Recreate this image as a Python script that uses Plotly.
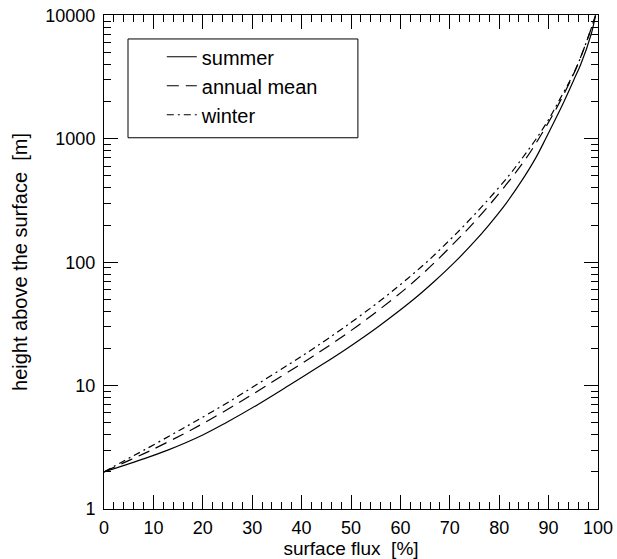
import plotly.graph_objects as go

heights = [2, 2.5, 3, 4, 5, 7, 10, 15, 20, 30, 50, 70, 100, 150, 200, 300, 500, 700,
           1000, 1500, 2000, 3000, 4000, 7000, 10000]
summer = [0, 7.4, 12.9, 20.1, 24.7, 31.1, 37.4, 44.4, 49.2, 55.5, 62.7, 66.9, 71.0, 75.2,
          77.9, 81.4, 85.2, 87.4, 89.4, 91.6, 93.1, 95.1, 96.5, 98.6, 99.5]
annual_mean = [0, 5.3, 9.6, 15.8, 20.3, 26.6, 32.9, 39.9, 44.7, 51.1, 58.4, 62.8, 67.0, 71.4,
               74.4, 78.3, 82.8, 85.5, 88.0, 90.6, 92.3, 94.5, 95.9, 98.2, 99.5]
winter = [0, 4.4, 8.1, 13.7, 18.0, 24.3, 30.6, 37.6, 42.4, 48.8, 56.3, 60.8, 65.3, 69.9,
          73.0, 77.1, 81.9, 84.7, 87.5, 90.3, 92.0, 94.4, 95.9, 98.2, 99.5]

x_ticks = [0, 10, 20, 30, 40, 50, 60, 70, 80, 90, 100]
y_ticks = [1, 10, 100, 1000, 10000]
y_ticklabels = ["1", "10", "100", "1000", "10000"]

FONT = "Liberation Sans, Arial, Helvetica, sans-serif"

fig = go.Figure()
fig.add_trace(go.Scatter(x=summer, y=heights, mode="lines", name="summer",
                         line=dict(color="black", width=1.2, shape="spline", smoothing=1.0)))
fig.add_trace(go.Scatter(x=annual_mean, y=heights, mode="lines", name="annual mean",
                         line=dict(color="black", width=1.2, dash="12px,7px", shape="spline", smoothing=1.0)))
fig.add_trace(go.Scatter(x=winter, y=heights, mode="lines", name="winter",
                         line=dict(color="black", width=1.2, dash="7px,4px,2px,4px", shape="spline", smoothing=1.0)))

fig.update_layout(
    width=617, height=559,
    margin=dict(l=104, r=19, t=15, b=50),
    paper_bgcolor="white", plot_bgcolor="white",
    font=dict(family=FONT, size=20, color="black"),
    showlegend=True,
    legend=dict(x=0.117, y=0.955, xanchor="left", yanchor="top",
                bgcolor="rgba(0,0,0,0)", borderwidth=0,
                font=dict(family=FONT, size=20), tracegroupgap=0),
    shapes=[dict(type="rect", xref="paper", yref="paper",
                 x0=0.0486, x1=0.514, y0=0.7515, y1=0.9515,
                 line=dict(color="black", width=1), fillcolor="rgba(0,0,0,0)")],
)

fig.update_xaxes(
    range=[0, 100], tickvals=x_ticks, ticks="inside", ticklen=14, tickwidth=1,
    tickcolor="black", showline=True, linecolor="black", linewidth=1,
    mirror="ticks", showgrid=False, zeroline=False, automargin=False,
    ticklabelstandoff=2, ticklabeloverflow="allow",
    tickfont=dict(family=FONT, size=18),
    title=dict(text="surface flux  [%]", font=dict(family=FONT, size=19), standoff=0),
    minor=dict(ticks="inside", ticklen=7, dtick=2, tickcolor="black", showgrid=False),
)
fig.update_yaxes(
    type="log", range=[0, 4.003], tickvals=y_ticks, ticktext=y_ticklabels,
    ticks="inside", ticklen=14, tickwidth=1, tickcolor="black",
    showline=True, linecolor="black", linewidth=1, mirror="ticks",
    showgrid=False, zeroline=False, automargin=False,
    ticklabelstandoff=4, ticklabeloverflow="allow",
    tickfont=dict(family=FONT, size=18),
    title=dict(text="height above the surface  [m]", font=dict(family=FONT, size=20), standoff=12),
    minor=dict(ticks="inside", ticklen=7, dtick="D1", tickcolor="black", showgrid=False),
)

# remove the browser's default 8px body margin so the figure fills the window
fig.write_html("out.html", config={"displayModeBar": False},
               post_script="document.body.style.margin='0';")
